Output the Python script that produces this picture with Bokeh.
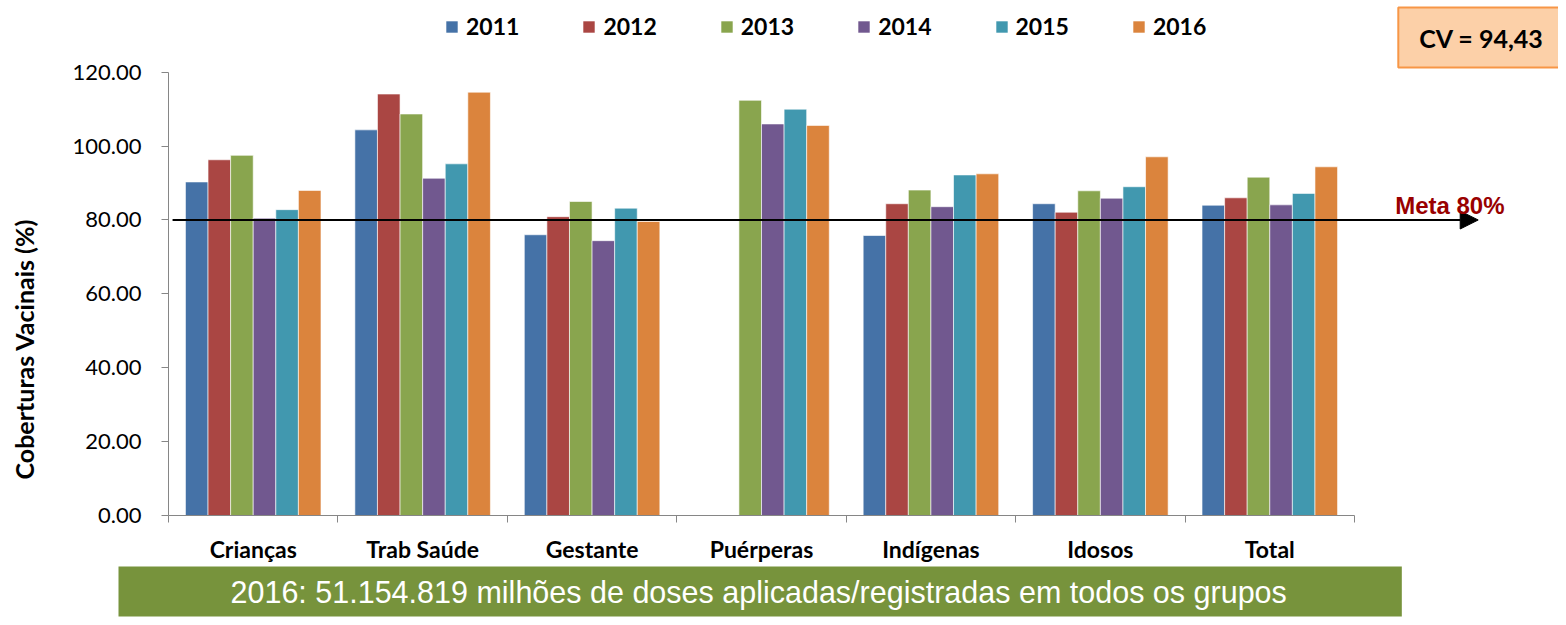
from bokeh.plotting import figure
from bokeh.models import (Range1d, FixedTicker, NumeralTickFormatter, Legend, LegendItem,
                          Label, Arrow, NormalHead, LinearAxis, Title)
from bokeh.embed import file_html
from bokeh.resources import INLINE
import numpy as np

categories = ["Crianças", "Trab Saúde", "Gestante", "Puérperas", "Indígenas", "Idosos", "Total"]
years = ["2011", "2012", "2013", "2014", "2015", "2016"]
v2011 = [90.3, 104.4, 76.0, None, 75.8, 84.4, 84.0]
v2012 = [96.3, 114.1, 80.9, None, 84.4, 82.1, 86.0]
v2013 = [97.5, 108.7, 85.0, 112.4, 88.1, 87.9, 91.6]
v2014 = [80.5, 91.3, 74.4, 106.0, 83.6, 85.9, 84.1]
v2015 = [82.8, 95.2, 83.2, 110.0, 92.2, 89.0, 87.2]
v2016 = [88.0, 114.6, 79.6, 105.6, 92.5, 97.1, 94.4]
y_ticks = [0, 20, 40, 60, 80, 100, 120]
meta = 80
meta_text = "Meta 80%"
cv_text = "CV = 94,43"
banner_text = "2016: 51.154.819 milhões de doses aplicadas/registradas em todos os grupos"
y_label = "Coberturas Vacinais (%)"

colors = ["#4572a7", "#aa4643", "#89a54e", "#71588f", "#4198af", "#db843d"]
series = [v2011, v2012, v2013, v2014, v2015, v2016]

ncat = len(categories)
p = figure(width=1558, height=617,
           x_range=Range1d(0, 8.204), y_range=Range1d(0, 139.42),
           output_backend="svg", toolbar_location=None,
           x_axis_type=None, y_axis_type=None,
           min_border_left=168, min_border_right=0, min_border_top=0, min_border_bottom=100)
p.outline_line_color = None
p.background_fill_color = "white"
p.border_fill_color = "white"

group = 0.8
bw = group / len(years)
items = []
for j, (yr, vals, col) in enumerate(zip(years, series, colors)):
    xs = [i + (1 - group) / 2 + (j + 0.5) * bw for i in range(ncat)]
    tops = [np.nan if v is None else v for v in vals]
    r = p.vbar(x=xs, top=tops, bottom=0, width=bw, fill_color=col,
               line_color="white", line_alpha=0.6, line_width=1)
    items.append(LegendItem(label=yr, renderers=[r]))

legend = Legend(items=items, orientation="horizontal", location=(276, 475),
                padding=0, margin=0, spacing=62, glyph_width=15, glyph_height=15,
                label_standoff=7, label_text_font="Lato", label_text_font_style="bold",
                label_text_font_size="23px", label_text_color="black",
                border_line_color=None, background_fill_alpha=0)
p.add_layout(legend, "center")

# y axis
yaxis = LinearAxis(ticker=FixedTicker(ticks=y_ticks), formatter=NumeralTickFormatter(format="0.00"),
                   bounds=(0, 120), axis_label=y_label + "\u00a0" * 30)
yaxis.axis_line_color = "#868686"
yaxis.major_tick_line_color = "#868686"
yaxis.major_tick_out = 7
yaxis.major_tick_in = 0
yaxis.minor_tick_line_color = None
yaxis.major_label_text_font = "Lato"
yaxis.major_label_text_font_size = "22px"
yaxis.major_label_text_color = "black"
yaxis.major_label_standoff = 20
yaxis.axis_label_text_font = "Lato"
yaxis.axis_label_text_font_style = "bold"
yaxis.axis_label_text_font_size = "25px"
yaxis.axis_label_text_color = "black"
yaxis.axis_label_standoff = 31
p.add_layout(yaxis, "left")

# x axis
xaxis = LinearAxis(ticker=FixedTicker(ticks=[i + 0.5 for i in range(ncat)],
                                      minor_ticks=list(range(ncat + 1))),
                   bounds=(0, ncat))
xaxis.major_label_overrides = {i + 0.5: c for i, c in enumerate(categories)}
xaxis.axis_line_color = "#868686"
xaxis.major_tick_line_color = None
xaxis.major_tick_out = 7
xaxis.major_tick_in = 0
xaxis.minor_tick_line_color = "#868686"
xaxis.minor_tick_out = 7
xaxis.minor_tick_in = 0
xaxis.major_label_text_font = "Lato"
xaxis.major_label_text_font_style = "bold"
xaxis.major_label_text_font_size = "23px"
xaxis.major_label_text_color = "black"
xaxis.major_label_standoff = 12
p.add_layout(xaxis, "below")

# banner below the axis
banner = Title(text=banner_text, align="left", offset=-50, standoff=0, vertical_align="middle",
               text_font="Liberation Sans", text_font_style="normal", text_font_size="30.5px",
               text_color="white", background_fill_color="#77933c",
               padding=dict(left=112, right=115, top=8, bottom=8))
p.add_layout(banner, "below")

# meta line
p.add_layout(Arrow(end=NormalHead(size=18, fill_color="black", line_color="black"),
                   x_start=0.024, y_start=meta, x_end=7.73, y_end=meta,
                   line_color="black", line_width=2))
p.add_layout(Label(x=7.24, y=meta, y_offset=14, text=meta_text, text_baseline="alphabetic",
                   text_font="Liberation Sans", text_font_style="bold", text_font_size="24px",
                   text_color="#990000"))

# CV box (shadow + box)
p.add_layout(Label(x=1317, y=474, x_units="screen", y_units="screen", text=cv_text,
                   text_align="center", text_baseline="middle", text_font="Lato",
                   text_font_style="bold", text_font_size="25px", text_alpha=0,
                   background_fill_color="#888888", background_fill_alpha=0.35,
                   padding=dict(left=21, right=21, top=15, bottom=15)))
p.add_layout(Label(x=1313, y=478, x_units="screen", y_units="screen", text=cv_text,
                   text_align="center", text_baseline="middle", text_font="Lato",
                   text_font_style="bold", text_font_size="25px", text_color="black",
                   background_fill_color="#fcd0a8", border_line_color="#f79646",
                   border_line_width=2,
                   padding=dict(left=21, right=21, top=15, bottom=15)))

open("out.html", "w").write(file_html(p, INLINE))
